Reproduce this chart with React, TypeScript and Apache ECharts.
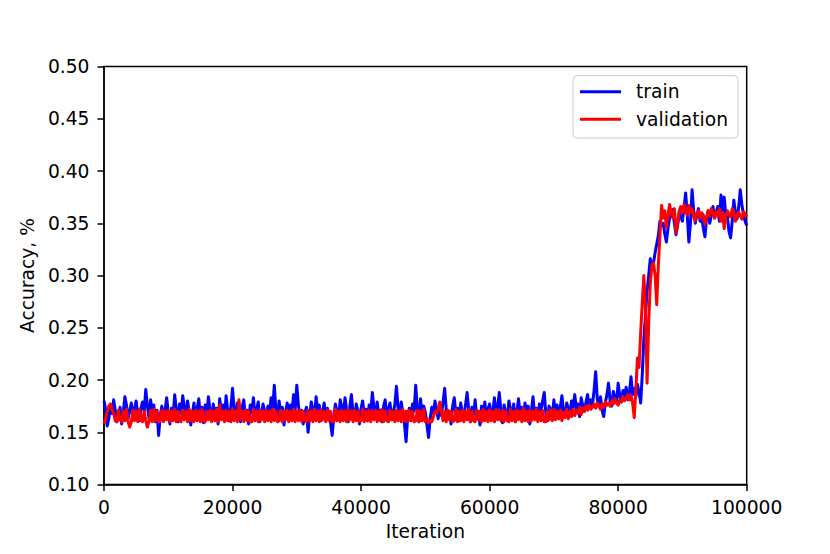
import React, { useEffect, useRef } from "react";
import * as echarts from "echarts";

// Accuracy readings every 250 iterations, 0 .. 100000
const trainAcc: number[] = [
  0.180, 0.172, 0.156, 0.163, 0.175, 0.168, 0.181, 0.171, 0.160, 0.166,
  0.174, 0.158, 0.169, 0.184, 0.176, 0.163, 0.170, 0.178, 0.165, 0.172,
  0.180, 0.167, 0.161, 0.173, 0.179, 0.170, 0.191, 0.175, 0.163, 0.181,
  0.169, 0.176, 0.160, 0.171, 0.147, 0.166, 0.175, 0.162, 0.171, 0.183,
  0.169, 0.158, 0.173, 0.165, 0.186, 0.172, 0.160, 0.177, 0.168, 0.185,
  0.174, 0.163, 0.180, 0.170, 0.157, 0.168, 0.178, 0.164, 0.172, 0.182,
  0.166, 0.174, 0.159, 0.176, 0.168, 0.184, 0.171, 0.162, 0.177, 0.166,
  0.173, 0.158, 0.182, 0.169, 0.176, 0.164, 0.185, 0.170, 0.161, 0.175,
  0.192, 0.172, 0.163, 0.178, 0.167, 0.160, 0.174, 0.181, 0.165, 0.171,
  0.158, 0.176, 0.169, 0.183, 0.164, 0.172, 0.179, 0.160, 0.167, 0.177,
  0.170, 0.162, 0.175, 0.168, 0.183, 0.173, 0.195, 0.171, 0.164, 0.180,
  0.166, 0.174, 0.157, 0.169, 0.178, 0.163, 0.176, 0.170, 0.186, 0.172,
  0.195, 0.176, 0.164, 0.171, 0.158, 0.168, 0.174, 0.150, 0.166, 0.179,
  0.172, 0.163, 0.184, 0.170, 0.176, 0.161, 0.169, 0.178, 0.165, 0.173,
  0.168, 0.159, 0.147, 0.165, 0.177, 0.170, 0.162, 0.181, 0.174, 0.166,
  0.183, 0.171, 0.160, 0.175, 0.186, 0.168, 0.163, 0.177, 0.170, 0.158,
  0.173, 0.180, 0.166, 0.172, 0.161, 0.176, 0.169, 0.188, 0.174, 0.163,
  0.179, 0.167, 0.171, 0.160, 0.175, 0.181, 0.165, 0.172, 0.178, 0.162,
  0.170, 0.176, 0.194, 0.174, 0.166, 0.179, 0.168, 0.158, 0.141, 0.165,
  0.173, 0.161, 0.177, 0.170, 0.195, 0.172, 0.160, 0.182, 0.167, 0.175,
  0.169, 0.157, 0.145, 0.163, 0.174, 0.168, 0.180, 0.171, 0.163, 0.176,
  0.166, 0.179, 0.192, 0.172, 0.164, 0.170, 0.158, 0.175, 0.183, 0.167,
  0.173, 0.161, 0.178, 0.169, 0.165, 0.176, 0.188, 0.171, 0.160, 0.174,
  0.167, 0.181, 0.163, 0.170, 0.157, 0.175, 0.168, 0.179, 0.164, 0.172,
  0.177, 0.162, 0.170, 0.183, 0.166, 0.174, 0.188, 0.171, 0.159, 0.176,
  0.168, 0.163, 0.180, 0.172, 0.165, 0.177, 0.160, 0.170, 0.182, 0.167,
  0.174, 0.162, 0.178, 0.169, 0.175, 0.158, 0.171, 0.184, 0.166, 0.173,
  0.163, 0.177, 0.170, 0.180, 0.188, 0.168, 0.161, 0.175, 0.172, 0.165,
  0.181, 0.169, 0.176, 0.163, 0.174, 0.185, 0.170, 0.166, 0.178, 0.172,
  0.168, 0.180, 0.174, 0.186, 0.171, 0.177, 0.165, 0.183, 0.175, 0.170,
  0.179, 0.186, 0.173, 0.181, 0.176, 0.190, 0.208, 0.182, 0.175, 0.184,
  0.171, 0.165, 0.178, 0.186, 0.197, 0.180, 0.175, 0.189, 0.183, 0.178,
  0.197, 0.185, 0.179, 0.190, 0.184, 0.193, 0.181, 0.188, 0.203, 0.186,
  0.192, 0.184, 0.196, 0.188, 0.178, 0.205, 0.240, 0.262, 0.285, 0.300,
  0.316, 0.309, 0.312, 0.322, 0.330, 0.338, 0.352, 0.348, 0.350, 0.340,
  0.332, 0.345, 0.355, 0.360, 0.363, 0.350, 0.339, 0.348, 0.360, 0.356,
  0.352, 0.365, 0.379, 0.358, 0.332, 0.350, 0.382, 0.362, 0.350, 0.358,
  0.364, 0.352, 0.356, 0.345, 0.337, 0.355, 0.362, 0.350, 0.358, 0.366,
  0.355, 0.360, 0.366, 0.352, 0.377, 0.362, 0.375, 0.358, 0.356, 0.342,
  0.336, 0.352, 0.372, 0.360, 0.354, 0.365, 0.382, 0.368, 0.358, 0.352,
  0.348,
];

const validationAcc: number[] = [
  0.158, 0.163, 0.170, 0.175, 0.177, 0.172, 0.168, 0.161, 0.160, 0.171,
  0.162, 0.160, 0.170, 0.161, 0.172, 0.160, 0.155, 0.160, 0.171, 0.161,
  0.170, 0.160, 0.172, 0.162, 0.160, 0.170, 0.161, 0.155, 0.161, 0.171,
  0.160, 0.172, 0.161, 0.170, 0.160, 0.161, 0.171, 0.160, 0.170, 0.162,
  0.171, 0.160, 0.170, 0.161, 0.172, 0.160, 0.170, 0.161, 0.160, 0.171,
  0.162, 0.170, 0.160, 0.172, 0.161, 0.170, 0.160, 0.171, 0.161, 0.170,
  0.160, 0.172, 0.161, 0.160, 0.170, 0.162, 0.171, 0.160, 0.170, 0.161,
  0.172, 0.160, 0.176, 0.162, 0.170, 0.160, 0.171, 0.161, 0.170, 0.160,
  0.172, 0.161, 0.170, 0.160, 0.181, 0.163, 0.170, 0.160, 0.171, 0.161,
  0.170, 0.160, 0.160, 0.172, 0.161, 0.170, 0.160, 0.171, 0.162, 0.170,
  0.160, 0.171, 0.161, 0.170, 0.160, 0.172, 0.161, 0.170, 0.160, 0.161,
  0.171, 0.160, 0.170, 0.162, 0.171, 0.160, 0.170, 0.161, 0.172, 0.160,
  0.170, 0.161, 0.171, 0.160, 0.170, 0.162, 0.160, 0.171, 0.161, 0.170,
  0.160, 0.172, 0.161, 0.170, 0.160, 0.171, 0.162, 0.170, 0.160, 0.171,
  0.161, 0.170, 0.160, 0.160, 0.172, 0.161, 0.170, 0.160, 0.171, 0.161,
  0.170, 0.160, 0.172, 0.162, 0.170, 0.160, 0.171, 0.161, 0.170, 0.160,
  0.161, 0.172, 0.160, 0.170, 0.161, 0.171, 0.160, 0.170, 0.162, 0.171,
  0.160, 0.170, 0.161, 0.172, 0.160, 0.170, 0.161, 0.160, 0.171, 0.162,
  0.170, 0.160, 0.171, 0.161, 0.170, 0.160, 0.172, 0.161, 0.170, 0.160,
  0.171, 0.162, 0.170, 0.160, 0.161, 0.171, 0.160, 0.170, 0.161, 0.172,
  0.160, 0.163, 0.159, 0.161, 0.160, 0.165, 0.170, 0.168, 0.172, 0.179,
  0.170, 0.161, 0.170, 0.160, 0.171, 0.162, 0.170, 0.160, 0.161, 0.172,
  0.160, 0.170, 0.161, 0.171, 0.160, 0.170, 0.162, 0.172, 0.160, 0.170,
  0.161, 0.160, 0.171, 0.162, 0.170, 0.160, 0.172, 0.161, 0.170, 0.160,
  0.171, 0.161, 0.170, 0.160, 0.172, 0.162, 0.170, 0.161, 0.171, 0.160,
  0.170, 0.161, 0.160, 0.172, 0.161, 0.170, 0.160, 0.171, 0.162, 0.170,
  0.160, 0.173, 0.161, 0.170, 0.160, 0.171, 0.161, 0.170, 0.162, 0.172,
  0.160, 0.170, 0.161, 0.171, 0.160, 0.160, 0.170, 0.162, 0.171, 0.161,
  0.172, 0.162, 0.170, 0.163, 0.171, 0.161, 0.169, 0.164, 0.172, 0.163,
  0.170, 0.165, 0.172, 0.166, 0.171, 0.168, 0.174, 0.167, 0.173, 0.170,
  0.175, 0.171, 0.176, 0.172, 0.174, 0.177, 0.173, 0.178, 0.175, 0.172,
  0.177, 0.174, 0.179, 0.176, 0.178, 0.175, 0.180, 0.177, 0.182, 0.178,
  0.176, 0.181, 0.179, 0.184, 0.180, 0.183, 0.186, 0.181, 0.185, 0.178,
  0.164, 0.190, 0.221, 0.212, 0.245, 0.274, 0.300, 0.268, 0.197, 0.255,
  0.292, 0.310, 0.312, 0.300, 0.272, 0.310, 0.338, 0.367, 0.355, 0.362,
  0.346, 0.358, 0.368, 0.360, 0.355, 0.364, 0.341, 0.350, 0.362, 0.366,
  0.360, 0.368, 0.362, 0.358, 0.367, 0.360, 0.364, 0.356, 0.352, 0.360,
  0.362, 0.355, 0.360, 0.358, 0.349, 0.355, 0.362, 0.357, 0.364, 0.360,
  0.355, 0.361, 0.357, 0.364, 0.352, 0.360, 0.345, 0.356, 0.362, 0.358,
  0.356, 0.364, 0.360, 0.352, 0.358, 0.361, 0.357, 0.354, 0.361, 0.359,
  0.356,
];

const ITER_STEP = 250;
const iterations: number[] = trainAcc.map((_, i) => i * ITER_STEP);

const xTicks = { min: 0, max: 100000, interval: 20000 };
const yTicks = { min: 0.1, max: 0.5, interval: 0.05 };

const seriesNames = ["train", "validation"];
const FONT = "DejaVu Sans";
const FS = 18.7;
const LEGEND_ICON = "path://M0,0L41,0L41,3L0,3Z";

export default function App() {
  const ref = useRef<HTMLDivElement>(null);

  useEffect(() => {
    if (!ref.current) return;
    const chart = echarts.init(ref.current, undefined, { renderer: "svg" });
    const axisLine = { show: true, lineStyle: { color: "#000", width: 1.5 } };
    const axisTick = { show: true, inside: false, length: 6.5, lineStyle: { color: "#000", width: 1.5 } };
    chart.setOption({
      animation: false,
      backgroundColor: "#ffffff",
      textStyle: { fontFamily: FONT },
      grid: {
        left: 104,
        right: 83.3,
        top: 66.5,
        bottom: 69.5,
        containLabel: false,
        outerBoundsMode: "none",
        show: true,
        borderColor: "#000",
        borderWidth: 1.5,
        backgroundColor: "transparent",
      },
      legend: {
        left: 573,
        top: 75.7,
        orient: "vertical",
        itemWidth: 41,
        itemHeight: 14,
        itemGap: 7.6,
        symbolKeepAspect: true,
        padding: [6, 10, 8.7, 7],
        backgroundColor: "rgba(255,255,255,0.8)",
        borderColor: "#cccccc",
        borderWidth: 1,
        borderRadius: 4,
        textStyle: {
          fontFamily: FONT,
          fontSize: FS,
          color: "#000",
          lineHeight: 20,
          padding: [0, 0, 0, 10],
        },
        data: seriesNames.map((name) => ({ name, icon: LEGEND_ICON })),
      },
      xAxis: {
        type: "value",
        min: xTicks.min,
        max: xTicks.max,
        interval: xTicks.interval,
        name: "Iteration",
        nameLocation: "middle",
        nameGap: 37,
        nameTextStyle: { fontFamily: FONT, fontSize: FS, color: "#000" },
        axisLine,
        axisTick,
        splitLine: { show: false },
        axisLabel: {
          fontFamily: FONT,
          fontSize: FS,
          color: "#000",
          margin: 13,
          formatter: (v: number) => String(v),
        },
      },
      yAxis: {
        type: "value",
        min: yTicks.min,
        max: yTicks.max,
        interval: yTicks.interval,
        name: "Accuracy, %",
        nameLocation: "middle",
        nameRotate: 90,
        nameGap: 61,
        nameTextStyle: { fontFamily: FONT, fontSize: FS, color: "#000" },
        axisLine,
        axisTick,
        splitLine: { show: false },
        axisLabel: {
          fontFamily: FONT,
          fontSize: FS,
          color: "#000",
          margin: 14.5,
          formatter: (v: number) => v.toFixed(2),
        },
      },
      series: [
        {
          name: seriesNames[0],
          type: "line",
          data: iterations.map((x, i) => [x, trainAcc[i]]),
          symbol: "none",
          showSymbol: false,
          lineStyle: { color: "#0000ff", width: 3, join: "round" },
          itemStyle: { color: "#0000ff" },
          clip: true,
        },
        {
          name: seriesNames[1],
          type: "line",
          data: iterations.map((x, i) => [x, validationAcc[i]]),
          symbol: "none",
          showSymbol: false,
          lineStyle: { color: "#ff0000", width: 3, join: "round" },
          itemStyle: { color: "#ff0000" },
          clip: true,
        },
      ],
    });
    return () => chart.dispose();
  }, []);

  return (
    <div
      ref={ref}
      style={{ position: "fixed", left: 0, top: 0, width: 830, height: 554, background: "#fff" }}
    />
  );
}
